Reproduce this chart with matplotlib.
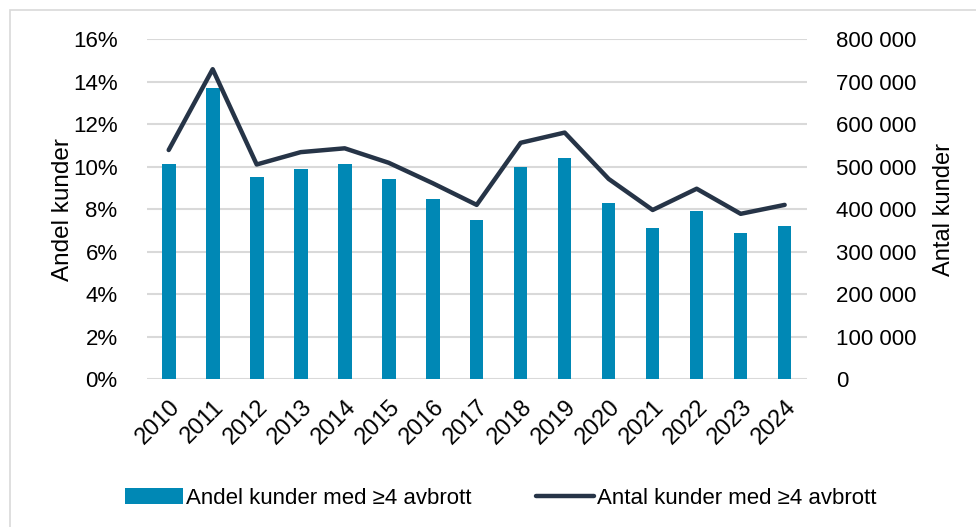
import matplotlib.pyplot as plt
from matplotlib.patches import Rectangle
from matplotlib.ticker import FuncFormatter

plt.rcParams['font.family'] = ['Liberation Sans', 'DejaVu Sans']

years = ['2010', '2011', '2012', '2013', '2014', '2015', '2016', '2017',
         '2018', '2019', '2020', '2021', '2022', '2023', '2024']
andel = [10.1, 13.7, 9.5, 9.9, 10.1, 9.4, 8.5, 7.5,
         10.0, 10.4, 8.3, 7.1, 7.9, 6.9, 7.2]
antal = [539000, 729000, 505000, 534000, 543000, 509000, 461000, 410000,
         556000, 580000, 471000, 398000, 448000, 389000, 410000]

bar_color = '#0088b5'
line_color = '#263447'
grid_color = '#d9d9d9'

fig = plt.figure(figsize=(9.76, 5.27), dpi=100)
ax = fig.add_axes([0.1503, 0.2803, 0.6762, 0.6457])
ax2 = ax.twinx()

x = list(range(len(years)))
ax.bar(x, andel, width=0.31, color=bar_color, zorder=2,
       label='Andel kunder med ≥4 avbrott')
ax2.plot(x, antal, color=line_color, lw=3.2, solid_capstyle='round',
         solid_joinstyle='round', zorder=3, label='Antal kunder med ≥4 avbrott')

ax.set_xlim(-0.5, len(years) - 0.5)
ax.set_ylim(0, 16)
ax.set_yticks(range(0, 17, 2))
ax.yaxis.set_major_formatter(FuncFormatter(lambda v, p: f'{int(v)}%'))
ax2.set_ylim(0, 800000)
ax2.set_yticks(range(0, 800001, 100000))
ax2.yaxis.set_major_formatter(
    FuncFormatter(lambda v, p: f'{int(v):,}'.replace(',', ' ')))

ax.set_xticks(x)
ax.set_xticklabels(years, rotation=45, ha='right', rotation_mode='anchor')
ax.grid(axis='y', color=grid_color, lw=1.5, zorder=0)
ax.set_axisbelow(True)

for a in (ax, ax2):
    for s in a.spines.values():
        s.set_visible(False)
    a.tick_params(length=0, labelsize=16, colors='black')
ax.tick_params(axis='y', pad=21)
ax2.tick_params(axis='y', pad=21)
ax.tick_params(axis='x', pad=12, labelsize=17)

ax.set_ylabel('Andel kunder', fontsize=17.5, labelpad=-1)
ax2.set_ylabel('Antal kunder', fontsize=17, rotation=90, labelpad=12)
ax2.set_zorder(ax.get_zorder() + 1)
ax2.patch.set_visible(False)

h1, l1 = ax.get_legend_handles_labels()
h2, l2 = ax2.get_legend_handles_labels()
fig.legend(h1 + h2, l1 + l2, loc='center', bbox_to_anchor=(0.513, 0.055),
           ncol=2, frameon=False, fontsize=16, handlelength=2.6,
           handletextpad=0.15, columnspacing=2.9)

fig.patches.append(Rectangle((10 / 976, -0.1), 1.2, 1.1 - 10 / 527,
                             transform=fig.transFigure, fill=False,
                             edgecolor=grid_color, lw=1.2))

fig.savefig('out.png', dpi=100)
